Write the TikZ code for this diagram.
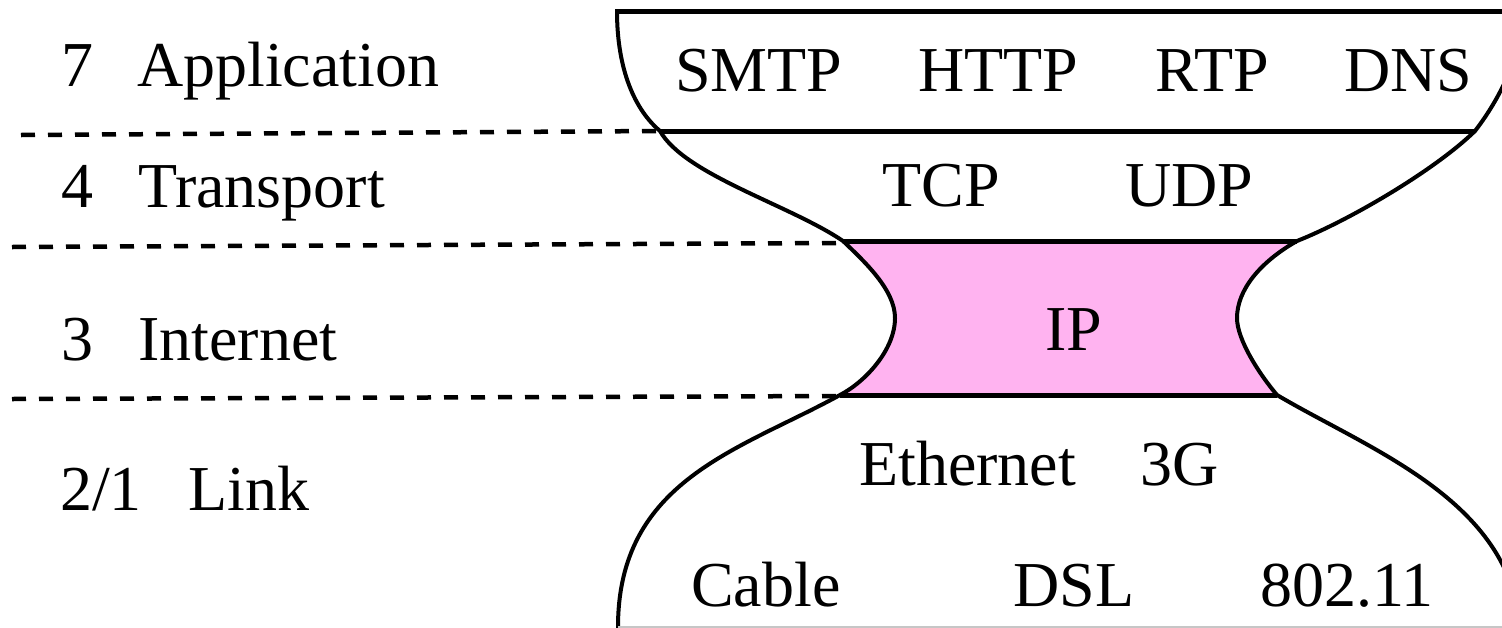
\documentclass[tikz,border=0pt]{standalone}
\usepackage{fontspec}
\setmainfont{Liberation Serif}
\definecolor{ippink}{RGB}{255,179,240}
\begin{document}
\begin{tikzpicture}[x=1pt,y=-1pt,
  lbl/.style={anchor=base west,inner sep=0pt,font=\fontsize{64}{76}\selectfont},
  edgeline/.style={line width=4pt},
  barline/.style={line width=5pt},
  sepline/.style={line width=4.5pt,dash pattern=on 14pt off 13pt}]
\useasboundingbox (0,0) rectangle (1502,627);
\begin{scope}
\clip (0,0) rectangle (1502,627);
% IP region fill
\fill[ippink] (843,241) -- (1297,241)
  .. controls (1260,262) and (1237,290) .. (1237,318)
  .. controls (1237,340) and (1260,375) .. (1277,395)
  -- (840,395)
  .. controls (865,382) and (895,350) .. (895,318)
  .. controls (895,290) and (865,262) .. (843,241) -- cycle;
% horizontal bars
\draw[barline] (617,11) -- (1530,11);
\draw[barline] (660,131) -- (1475,131);
\draw[barline] (843,241) -- (1297,241);
\draw[barline] (840,395) -- (1277,395);
% left outline
\draw[edgeline] (617,9) -- (617,11)
  .. controls (617,70) and (635,110) .. (660,131)
  .. controls (685,175) and (790,205) .. (843,241)
  .. controls (865,262) and (895,290) .. (895,318)
  .. controls (895,350) and (865,382) .. (840,395)
  .. controls (740,450) and (618,480) .. (618,627) -- (618,640);
% right outline
\draw[edgeline] (1522,5) -- (1522,11)
  .. controls (1522,60) and (1495,105) .. (1475,131)
  .. controls (1435,170) and (1350,220) .. (1297,241)
  .. controls (1260,262) and (1237,290) .. (1237,318)
  .. controls (1237,340) and (1260,375) .. (1277,395)
  .. controls (1370,450) and (1510,500) .. (1520,627) -- (1520,640);
% faint bottom edge
\draw[gray!45,line width=1.5pt] (618,627) -- (1502,627);
% dashed layer separators
\draw[sepline] (21,135) -- (660,131);
\draw[sepline] (12,247) -- (843,243);
\draw[sepline] (12,399) -- (840,396);
\end{scope}
% layer labels
\node[lbl] (n7) at (61,86.7) {7};
\node[lbl] (app) at (137,86.7) {Application};
\node[lbl] (n4) at (61,207) {4};
\node[lbl] (trans) at (138,207) {Transport};
\node[lbl] (n3) at (61,360) {3};
\node[lbl] (inet) at (138,360) {Internet};
\node[lbl] (n21) at (60,510.7) {2/1};
\node[lbl] (link) at (188,510.7) {Link};
% protocols
\node[lbl] (smtp) at (675,91.7) {SMTP};
\node[lbl] (http) at (918,91.7) {HTTP};
\node[lbl] (rtp) at (1155,91.7) {RTP};
\node[lbl] (dns) at (1344,91.7) {DNS};
\node[lbl] (tcp) at (882,206.7) {TCP};
\node[lbl] (udp) at (1125,206.7) {UDP};
\node[lbl] (ip) at (1045,350) {IP};
\node[lbl] (eth) at (859,485) {Ethernet};
\node[lbl] (g3) at (1140,485) {3G};
\node[lbl] (cable) at (691,606.7) {Cable};
\node[lbl] (dsl) at (1013,606.7) {DSL};
\node[lbl] (wifi) at (1260,606.7) {802.11};
\end{tikzpicture}
\end{document}
